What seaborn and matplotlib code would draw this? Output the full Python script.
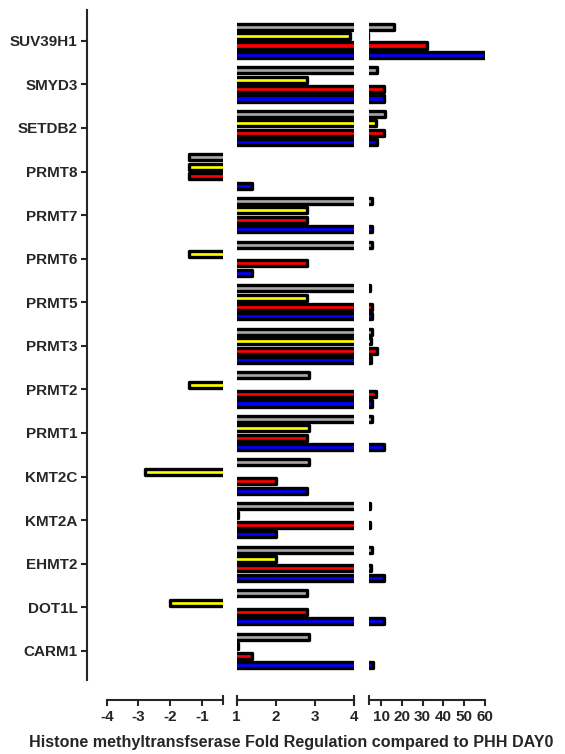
import numpy as np
import pandas as pd
import matplotlib
matplotlib.use("Agg")
import matplotlib.pyplot as plt
import seaborn as sns

# Fold regulation of histone methyltransferases (four conditions per gene)
genes = ["SUV39H1", "SMYD3", "SETDB2", "PRMT8", "PRMT7", "PRMT6", "PRMT5",
         "PRMT3", "PRMT2", "PRMT1", "KMT2C", "KMT2A", "EHMT2", "DOT1L", "CARM1"]
series = ["S1", "S2", "S3", "S4"]
colors = ["#A6A6A6", "#FFFF00", "#FF0000", "#0000FF"]

s1_values = [16.0, 8.2, 12.0, -1.4, 5.8, 5.8, 4.6, 5.6, 2.85, 5.8, 2.85, 4.5, 5.8, 2.8, 2.85]
s2_values = [3.9, 2.8, 7.8, -1.4, 2.8, -1.4, 2.8, 5.0, -1.4, 2.85, -2.8, 1.03, 2.0, -2.0, 1.03]
s3_values = [32.0, 11.3, 11.6, -1.4, 2.8, 2.8, 5.6, 8.0, 7.4, 2.8, 2.0, 4.6, 5.0, 2.8, 1.4]
s4_values = [60.0, 11.3, 8.2, 1.4, 5.8, 1.4, 5.6, 5.4, 5.8, 11.3, 2.8, 2.0, 11.3, 11.3, 6.2]

left_ticks = [-4, -3, -2, -1]
mid_ticks = [1, 2, 3, 4]
right_ticks = [10, 20, 30, 40, 50, 60]

df = pd.DataFrame({
    "gene": np.tile(genes, 4),
    "series": np.repeat(series, len(genes)),
    "value": s1_values + s2_values + s3_values + s4_values,
})

sns.set_style("ticks")
plt.rcParams["font.family"] = ["Liberation Sans", "DejaVu Sans"]
plt.rcParams["font.weight"] = "bold"

W, H = 565, 754
fig = plt.figure(figsize=(W / 100, H / 100), dpi=100)

y_top, y_bot = 10, 680
bottom = (H - y_bot) / H
height = (y_bot - y_top) / H

segments = [
    # (left px, right px, xlim, major ticks, break caps)
    (106.7, 223.0, (-4, -0.33), left_ticks, [-0.33]),
    (236.7, 354.0, (1, 4), mid_ticks, [1, 4]),
    (369.0, 485.0, (4.2, 60), right_ticks, [4.2]),
]

axes = []
for i, (x0, x1, xlim, ticks, caps) in enumerate(segments):
    ax = fig.add_axes([x0 / W, bottom, (x1 - x0) / W, height])
    sns.barplot(data=df, x="value", y="gene", hue="series", order=genes,
                hue_order=series, palette=colors, orient="h", width=0.864,
                gap=0.36, saturation=1, errorbar=None, edgecolor="black",
                linewidth=2.4, joinstyle="round", legend=False, ax=ax)
    ax.set_xlim(*xlim)
    ax.set_ylim(14.67, -0.707)
    ax.set_xlabel("")
    ax.set_ylabel("")
    for side in ["top", "right"]:
        ax.spines[side].set_visible(False)
    ax.spines["bottom"].set_position(("outward", 14.4))
    ax.spines["bottom"].set_linewidth(1.5)
    ax.set_xticks(ticks)
    ax.set_xticklabels([str(t) for t in ticks])
    ax.xaxis.remove_overlapping_locs = False
    ax.set_xticks(caps, minor=True)
    ax.tick_params(axis="x", which="major", direction="out", length=4.2,
                   width=1.5, labelsize=11, pad=3)
    ax.tick_params(axis="x", which="minor", direction="inout", length=6.8,
                   width=1.5)
    if i == 0:
        ax.spines["left"].set_position(("outward", 14.4))
        ax.spines["left"].set_linewidth(1.5)
        ax.tick_params(axis="y", direction="out", length=4.5, width=1.5,
                       labelsize=11, pad=2)
    else:
        ax.spines["left"].set_visible(False)
        ax.tick_params(axis="y", left=False, labelleft=False)
    for lab in ax.get_xticklabels() + ax.get_yticklabels():
        lab.set_fontweight("bold")
    axes.append(ax)

fig.text(291 / W, (H - 742) / H,
         "Histone methyltransfserase Fold Regulation compared to PHH DAY0",
         ha="center", va="center", fontsize=11.6, fontweight="bold")

fig.savefig("out.png", dpi=100)
